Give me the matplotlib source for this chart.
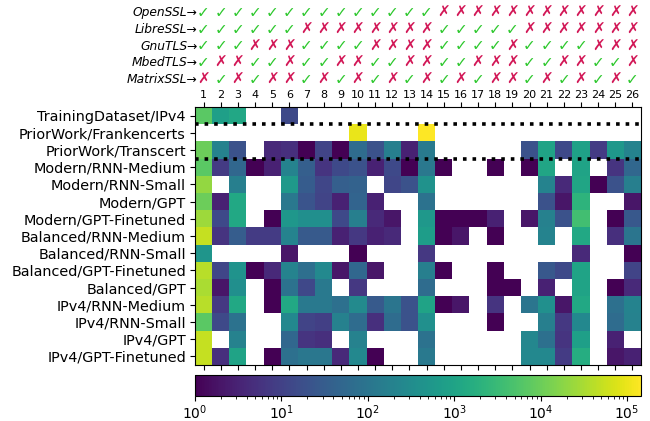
import numpy as np
import matplotlib
matplotlib.use('Agg')
import matplotlib.pyplot as plt
from matplotlib.colors import LogNorm
from matplotlib.transforms import blended_transform_factory

N = np.nan

row_labels = [
    "TrainingDataset/IPv4", "PriorWork/Frankencerts", "PriorWork/Transcert",
    "Modern/RNN-Medium", "Modern/RNN-Small", "Modern/GPT", "Modern/GPT-Finetuned",
    "Balanced/RNN-Medium", "Balanced/RNN-Small", "Balanced/GPT-Finetuned",
    "Balanced/GPT", "IPv4/RNN-Medium", "IPv4/RNN-Small", "IPv4/GPT",
    "IPv4/GPT-Finetuned",
]
col_labels = [str(i) for i in range(1, 27)]

training_ipv4 = [7000, 800, 1200, N, N, 14, N, N, N, N, N, N, N, N, N, N, N, N, N, N, N, N, N, N, N, N]
frankencerts = [N, N, N, N, N, N, N, N, N, 100000, N, N, N, 145000, N, N, N, N, N, N, N, N, N, N, N, N]
transcert = [10000, 190, 20, N, 4, 5, 1, 11, 1, 63, 20, 160, 3, 125, N, N, N, N, N, 20, 1000, 14, 900, 8, 560, 200]
modern_rnn_medium = [7000, 8, 50, 1, 3, 200, 35, 6, 14, 20, 3, 14, 1, 115, 1, N, N, 1, N, 1, 1100, N, 1000, N, 6, 50]
modern_rnn_small = [21000, N, 160, N, N, 600, 30, 12, 35, 40, N, 12, 20, 400, N, N, N, N, N, N, 200, 4, 1100, 1, 20, 160]
modern_gpt = [10000, 3, 1250, N, N, 115, 22, 11, 3, 45, 3, N, N, 90, N, N, N, N, N, N, 20, 2, 2200, N, N, 2]
modern_gpt_ft = [25000, 14, 1250, N, 1, 540, 350, 350, 14, 160, 4, 2, N, 560, 1, 1, 1, 3, N, 2, 180, 20, 4000, N, 1, 25]
balanced_rnn_medium = [50000, 6, 32, 8, 8, 200, 28, 28, 3, 7, 3, 4, N, 700, 1, 2, N, 1, N, N, 200, N, 1250, N, 5, 100]
balanced_rnn_small = [500, N, N, N, N, 2, N, N, N, 1, N, N, N, 7, N, N, N, N, N, N, N, N, 4, N, N, 1]
balanced_gpt_ft = [40000, 12, 450, 1, 4, 200, 72, 270, 2, 50, 2, N, N, 160, 1, N, N, 1, N, N, 25, 14, 1000, N, N, 11]
balanced_gpt = [32000, 2, 350, N, 1, 90, 13, 120, N, 7, N, N, N, 65, N, N, N, 1, 1, N, 3, N, 1000, N, 1, 4]
ipv4_rnn_medium = [40000, 7, 1250, N, 1, 1250, 120, 120, 75, 280, 28, 100, 20, 1000, 1, 2, N, 6, N, 100, 380, 2, 1250, N, 75, 200]
ipv4_rnn_small = [7000, 14, 90, N, N, 260, 11, 9, 180, 65, 5, 65, 20, 380, N, N, N, 1, N, N, 160, 7, 260, N, 65, 190]
ipv4_gpt = [50000, N, 190, N, N, 50, 6, 5, N, 190, N, N, N, 90, N, N, N, N, N, 250, 75, 6, 800, N, 3, N]
ipv4_gpt_ft = [50000, 5, 1000, N, 1, 75, 110, 110, 4, 260, 1, N, N, 120, N, N, N, N, N, 260, 260, 8, 1600, N, 2, 3]

data = np.array([
    training_ipv4, frankencerts, transcert, modern_rnn_medium, modern_rnn_small,
    modern_gpt, modern_gpt_ft, balanced_rnn_medium, balanced_rnn_small,
    balanced_gpt_ft, balanced_gpt, ipv4_rnn_medium, ipv4_rnn_small, ipv4_gpt,
    ipv4_gpt_ft,
], dtype=float)

libraries = ["OpenSSL", "LibreSSL", "GnuTLS", "MbedTLS", "MatrixSSL"]
# 1 = accepted (check), 0 = rejected (cross), per column 1..26
openssl_acc = [1,1,1,1,1,1,1,1,1,1,1,1,1,1,0,0,0,0,0,0,0,0,0,0,0,0]
libressl_acc = [1,1,1,1,1,1,0,0,0,0,0,0,0,0,1,1,1,1,1,0,0,0,0,0,0,0]
gnutls_acc = [1,1,1,0,0,0,1,1,1,1,0,0,0,0,1,1,1,1,0,1,1,1,1,0,0,0]
mbedtls_acc = [1,0,0,1,1,0,1,1,0,0,1,1,0,0,1,1,0,0,0,1,1,0,0,1,1,0]
matrixssl_acc = [0,1,0,1,0,0,1,0,1,0,1,0,1,0,1,0,1,0,0,1,0,1,0,1,0,1]
acceptance = [openssl_acc, libressl_acc, gnutls_acc, mbedtls_acc, matrixssl_acc]

W, H = 650, 421
fig = plt.figure(figsize=(W / 100, H / 100), dpi=100)

left, right, top, bottom = 195, 641, 107, 365
ax = fig.add_axes([left / W, 1 - bottom / H, (right - left) / W, (bottom - top) / H])
masked = np.ma.masked_invalid(data)
norm = LogNorm(vmin=1, vmax=1.45e5)
mesh = ax.pcolormesh(np.arange(data.shape[1] + 1), np.arange(data.shape[0] + 1), masked,
                     cmap='viridis', norm=norm)
ax.set_xlim(0, data.shape[1])
ax.set_ylim(data.shape[0], 0)
ax.set_xticks(np.arange(data.shape[1]) + 0.5)
ax.set_xticklabels(col_labels)
ax.tick_params(axis='x', top=True, labeltop=True, bottom=True, labelbottom=False,
               labelsize=8, pad=1.5)
ax.set_yticks(np.arange(data.shape[0]) + 0.5)
ax.set_yticklabels(row_labels, fontsize=10.4)
ax.tick_params(axis='y', pad=3)

ax.hlines([1, 3], 0, data.shape[1], colors='black', linestyles=':', linewidth=2.6)

trans = blended_transform_factory(ax.transData, ax.transAxes)
ah = bottom - top
for i, lib in enumerate(libraries):
    ypx = 12.7 + 16.65 * i
    yax = 1 + (top - ypx) / ah
    ax.text(0.15, yax, lib + "→", ha='right', va='center', style='italic',
            fontsize=8.8, transform=trans)
    for j, ok in enumerate(acceptance[i]):
        if ok:
            ax.text(j + 0.5, yax, "✓", ha='center', va='center', color='#2ec82e',
                    fontsize=11, transform=trans)
        else:
            ax.text(j + 0.5, yax, "✗", ha='center', va='center', color='#d21857',
                    fontsize=11, fontweight='bold', transform=trans)

cax = fig.add_axes([left / W, 1 - 396 / H, (right - left) / W, 21 / H])
cb = fig.colorbar(mesh, cax=cax, orientation='horizontal')
cax.tick_params(labelsize=10, pad=1.5)

fig.savefig('out.png', dpi=100)
